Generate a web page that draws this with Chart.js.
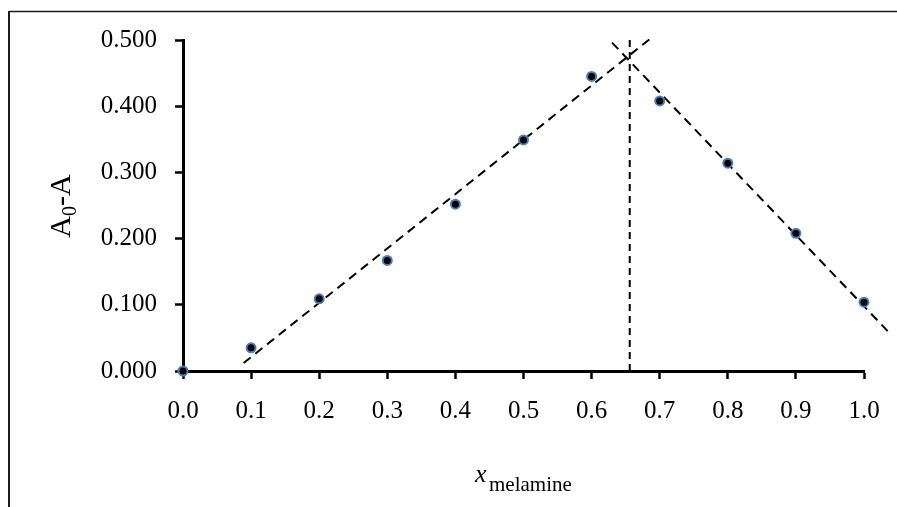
<!DOCTYPE html>
<html>
<head>
<meta charset="utf-8">
<script src="https://cdn.jsdelivr.net/npm/chart.js@4/dist/chart.umd.min.js"></script>
<style>
  html, body { margin: 0; padding: 0; background: #fff; }
  #wrap { width: 897px; height: 507px; position: relative; }
</style>
</head>
<body>
<div id="wrap"><canvas id="canvas-job"></canvas></div>
<script>
// mole fraction of melamine and measured absorbance change
const moleFraction = [0.0, 0.1, 0.2, 0.3, 0.4, 0.5, 0.6, 0.7, 0.8, 0.9, 1.0];
const absorbanceDiff = [0.000, 0.035, 0.109, 0.167, 0.252, 0.349, 0.445, 0.408, 0.314, 0.208, 0.104];

// dashed trend lines (end points)
const risingX = [0.089, 0.691];
const risingY = [0.012, 0.506];
const fallingX = [0.630, 1.036];
const fallingY = [0.496, 0.059];
const crossX = [0.656, 0.656];
const crossY = [0.0, 0.5];

const toPoints = (xs, ys) => xs.map((x, i) => ({ x: x, y: ys[i] }));

const serif = "'Liberation Serif', 'Times New Roman', serif";

// border of the figure and the two axis titles
const decorPlugin = {
  id: "decor",
  afterDraw(chart) {
    const ctx = chart.ctx;
    ctx.save();
    ctx.strokeStyle = "#1a1a1a";
    ctx.lineWidth = 1.5;
    ctx.beginPath();
    ctx.moveTo(9, 11.5);
    ctx.lineTo(897, 11.5);
    ctx.stroke();
    ctx.lineWidth = 2;
    ctx.beginPath();
    ctx.moveTo(9, 11);
    ctx.lineTo(9, 507);
    ctx.stroke();

    ctx.fillStyle = "#000";
    ctx.textBaseline = "alphabetic";

    // y title: A0-A
    ctx.save();
    ctx.translate(70, 206);
    ctx.rotate(-Math.PI / 2);
    const big = "30px " + serif;
    const small = "20px " + serif;
    ctx.font = big;
    const wA = ctx.measureText("A").width;
    const wDash = ctx.measureText("-A").width;
    ctx.font = small;
    const w0 = ctx.measureText("0").width;
    let px = -(wA + w0 + wDash) / 2;
    ctx.font = big;
    ctx.fillText("A", px, 0);
    px += wA;
    ctx.font = small;
    ctx.fillText("0", px, 6);
    px += w0;
    ctx.font = big;
    ctx.fillText("-A", px, 0);
    ctx.restore();

    // x title: x_melamine
    ctx.font = "italic 26px " + serif;
    ctx.fillText("x", 475, 482);
    ctx.font = "21px " + serif;
    ctx.fillText("melamine", 489, 491);
    ctx.restore();
  },
};

window.onload = function () {
  const ctx = document.getElementById("canvas-job");

  const data = {
    datasets: [
      {
        label: "A0-A",
        type: "scatter",
        data: toPoints(moleFraction, absorbanceDiff),
        backgroundColor: "#000",
        borderColor: "#4a7ebb",
        borderWidth: 2,
        pointRadius: 4.5,
        clip: false,
        order: 1,
      },
      {
        label: "rising",
        type: "line",
        data: toPoints(risingX, risingY),
        borderColor: "#000",
        borderWidth: 2,
        borderDash: [9, 6],
        pointRadius: 0,
        fill: false,
        clip: false,
        order: 2,
      },
      {
        label: "falling",
        type: "line",
        data: toPoints(fallingX, fallingY),
        borderColor: "#000",
        borderWidth: 2,
        borderDash: [9, 6],
        pointRadius: 0,
        fill: false,
        clip: false,
        order: 2,
      },
      {
        label: "cross",
        type: "line",
        data: toPoints(crossX, crossY),
        borderColor: "#000",
        borderWidth: 2,
        borderDash: [7, 5],
        pointRadius: 0,
        fill: false,
        clip: false,
        order: 2,
      },
    ],
  };

  const config = {
    type: "scatter",
    data,
    options: {
      responsive: true,
      maintainAspectRatio: false,
      animation: false,
      layout: { padding: { left: 0, top: 40, right: 33, bottom: 0 } },
      scales: {
        x: {
          type: "linear",
          min: 0,
          max: 1,
          afterFit(scale) { scale.height = 136; },
          border: { display: true, color: "#000", width: 3 },
          grid: {
            drawOnChartArea: false,
            drawTicks: true,
            tickLength: 8,
            tickWidth: 2.5,
            tickColor: "#000",
          },
          ticks: {
            stepSize: 0.1,
            padding: 17,
            color: "#000",
            font: { family: serif, size: 25 },
            maxRotation: 0,
            callback: (v) => Number(v).toFixed(1),
          },
        },
        y: {
          type: "linear",
          min: 0,
          max: 0.5,
          afterFit(scale) { scale.width = 183; },
          border: { display: true, color: "#000", width: 3 },
          grid: {
            drawOnChartArea: false,
            drawTicks: true,
            tickLength: 8,
            tickWidth: 2.5,
            tickColor: "#000",
          },
          ticks: {
            stepSize: 0.1,
            padding: 18,
            color: "#000",
            font: { family: serif, size: 25 },
            callback: (v) => Number(v).toFixed(3),
          },
        },
      },
      plugins: {
        legend: { display: false },
        tooltip: { enabled: false },
      },
    },
    plugins: [decorPlugin],
  };

  const myChart = new Chart(ctx, config);
};
</script>
</body>
</html>
